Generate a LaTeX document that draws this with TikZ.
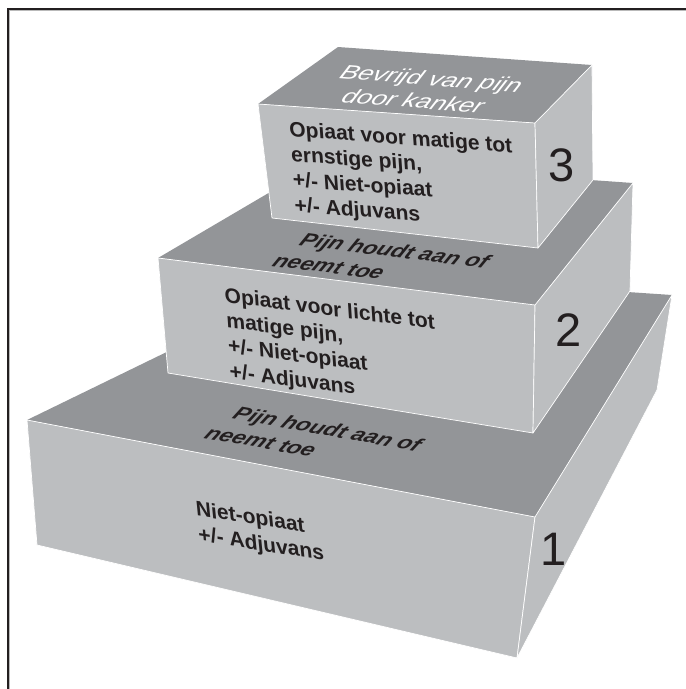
\documentclass[tikz,border=0pt]{standalone}
\usepackage{fontspec}
\setmainfont{Liberation Sans}
\definecolor{topgray}{HTML}{939598}
\definecolor{sidegray}{HTML}{BCBEC0}
\definecolor{ink}{HTML}{231F20}
% multi-line labels are anchored at the baseline of their last line
\tikzset{
  topface/.style={fill=topgray},
  sideface/.style={fill=sidegray, draw=white, line width=0.7pt, line join=round},
  frontlabel/.style={anchor=base west, inner sep=0pt, align=left, text=ink,
    font=\fontsize{21}{25.3}\selectfont\bfseries},
  toplabel/.style={anchor=base west, inner sep=0pt, align=left, text=ink,
    font=\fontsize{19}{23.8}\selectfont\bfseries\itshape, xslant=0.4, xscale=1.22},
  goallabel/.style={anchor=base west, inner sep=0pt, align=left, text=white,
    font=\fontsize{20}{23.8}\selectfont\itshape, xslant=0.4, xscale=1.33},
  steplabel/.style={inner sep=0pt, text=ink, font=\fontsize{47}{50}\selectfont},
}
\begin{document}
\begin{tikzpicture}[x=1pt, y=-1pt]
\useasboundingbox (0,0) rectangle (686,689);

% frame
\draw[gray!55, line width=0.8pt] (9.8,689) -- (9.8,10.8) -- (686,10.8);
\draw[ink, line width=1.3pt] (8,689) -- (8,9) -- (686,9);

% step 1 (bottom block)
\coordinate (a1) at (27,420);  \coordinate (b1) at (535,517);
\coordinate (c1) at (672,295); \coordinate (d1) at (331,272);
\coordinate (e1) at (37,545);  \coordinate (f1) at (517,658);
\coordinate (g1) at (657,390);
\fill[topface] (a1) -- (b1) -- (c1) -- (d1) -- cycle;
\filldraw[sideface] (a1) -- (b1) -- (f1) -- (e1) -- cycle;
\filldraw[sideface] (b1) -- (c1) -- (g1) -- (f1) -- cycle;

% step 2 (middle block)
\coordinate (a2) at (158,258); \coordinate (b2) at (535,305);
\coordinate (c2) at (633,183); \coordinate (d2) at (323,161);
\coordinate (e2) at (168,373); \coordinate (f2) at (533,433);
\coordinate (g2) at (630,291);
\fill[topface] (a2) -- (b2) -- (c2) -- (d2) -- cycle;
\filldraw[sideface] (a2) -- (b2) -- (f2) -- (e2) -- cycle;
\filldraw[sideface] (b2) -- (c2) -- (g2) -- (f2) -- cycle;

% step 3 (top block)
\coordinate (a3) at (258,104); \coordinate (b3) at (535,123);
\coordinate (c3) at (592,65);  \coordinate (d3) at (338,47);
\coordinate (e3) at (272,218); \coordinate (f3) at (538,248);
\coordinate (g3) at (593,180);
\fill[topface] (a3) -- (b3) -- (c3) -- (d3) -- cycle;
\filldraw[sideface] (a3) -- (b3) -- (f3) -- (e3) -- cycle;
\filldraw[sideface] (b3) -- (c3) -- (g3) -- (f3) -- cycle;

% labels on the top faces
\node[rotate=-4.5, goallabel] (goal) at (326.7,101)
  {Bevrijd van pijn\\\hspace*{10pt}door kanker};
\node[rotate=-7, toplabel] (up2) at (271,266)
  {\hspace*{12pt}Pijn houdt aan of\\neemt toe};
\node[rotate=-10, toplabel] (up1) at (203,438)
  {\hspace*{12.2pt}Pijn houdt aan of\\neemt toe};

% labels on the front faces (sheared to lie in the face)
\node[cm={1,-0.074,-0.07,1,(0,0)}, frontlabel] (s3) at (295,212)
  {Opiaat voor matige tot\\ernstige pijn,\\+/- Niet-opiaat\\+/- Adjuvans};
\node[cm={1,-0.13,-0.066,1,(0,0)}, frontlabel] (s2) at (230,378)
  {Opiaat voor lichte tot\\matige pijn,\\+/- Niet-opiaat\\+/- Adjuvans};
\node[cm={1,-0.155,-0.1,1,(0,0)}, frontlabel] (s1) at (199,541)
  {Niet-opiaat\\+/- Adjuvans};

% step numbers on the right faces
\node[steplabel] (n3) at (562,165) {3};
\node[steplabel] (n2) at (569,330) {2};
\node[steplabel] (n1) at (554,549) {1};
\end{tikzpicture}
\end{document}
